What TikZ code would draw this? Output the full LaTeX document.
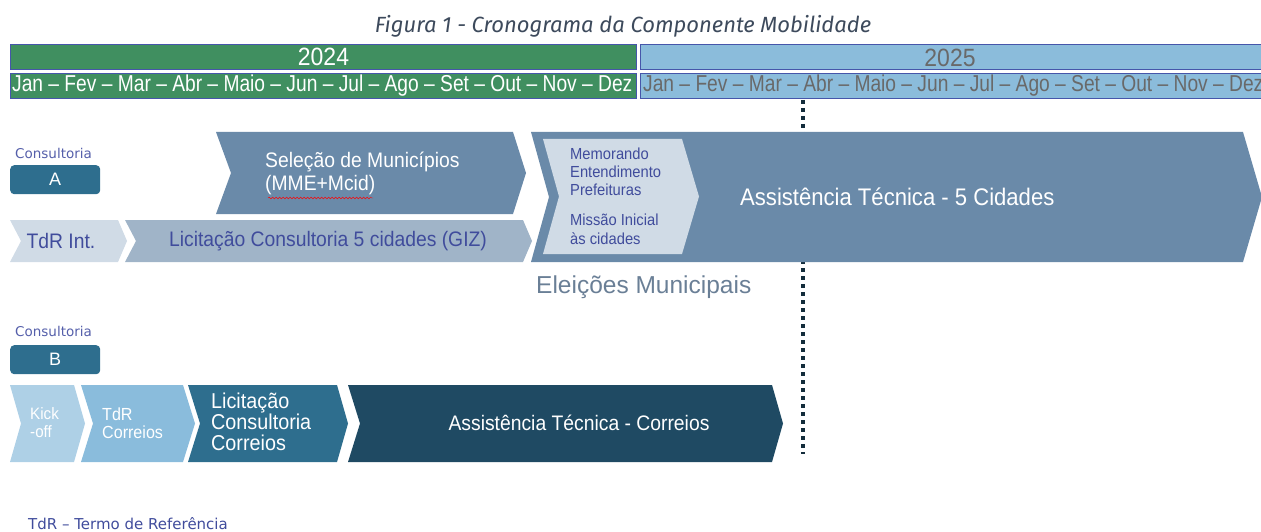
\documentclass[tikz,border=0pt]{standalone}
\usepackage{fontspec}
\setmainfont{Liberation Sans}
\newfontfamily\narrowfont[FakeStretch=0.835]{Liberation Sans}
\newfontfamily\semifont[FakeStretch=0.92]{Liberation Sans}
\newfontfamily\widefont{DejaVu Sans}
\newfontfamily\captionfont{Fira Sans}
\usetikzlibrary{decorations.pathmorphing}
\definecolor{yeargreen}{RGB}{64,143,96}
\definecolor{yearborder}{RGB}{70,86,170}
\definecolor{yearblue}{RGB}{139,188,219}
\definecolor{greytext}{RGB}{105,105,105}
\definecolor{chevmid}{RGB}{106,138,169}
\definecolor{chevlight}{RGB}{208,219,230}
\definecolor{chevgiz}{RGB}{160,180,200}
\definecolor{navytext}{RGB}{64,76,156}
\definecolor{tealbox}{RGB}{46,110,142}
\definecolor{kickblue}{RGB}{174,208,230}
\definecolor{tdrblue}{RGB}{138,188,220}
\definecolor{darknavy}{RGB}{31,74,99}
\definecolor{captioncol}{RGB}{61,74,92}
\definecolor{eleicol}{RGB}{106,127,150}
\definecolor{consultcol}{RGB}{85,95,170}

% chevron: fill, x left, x right, y top, y bottom, notch depth, tip depth
\newcommand{\chevron}[7]{%
  \fill[#1] (#2,#4) -- ({#3-#7},#4) -- (#3,{(#4+#5)/2}) -- ({#3-#7},#5)
    -- (#2,#5) -- ({#2+#6},{(#4+#5)/2}) -- cycle;}

\begin{document}
\begin{tikzpicture}[x=1pt, y=-1pt,
    every node/.style={inner sep=0pt},
    yearbar/.style={draw=yearborder, line width=1pt, anchor=north west, minimum height=25pt},
    yeartext/.style={font=\semifont\fontsize{25}{26}\selectfont},
    monthtext/.style={font=\narrowfont\fontsize{23}{24}\selectfont, anchor=west},
    consult/.style={font=\widefont\fontsize{13.5}{14}\selectfont, text=consultcol, anchor=west},
    letterbox/.style={fill=tealbox, rounded corners=4pt, minimum width=90pt, minimum height=29pt,
      text=white, font=\fontsize{18}{19}\selectfont, anchor=north west},
    chevtext/.style={font=\semifont\fontsize{21}{23}\selectfont, align=left, anchor=west},
    smalltext/.style={font=\semifont\fontsize{16}{18}\selectfont, align=left, anchor=west},
    dotline/.style={line width=4pt, dash pattern=on 4pt off 4pt}
  ]
  \useasboundingbox (0,0) rectangle (1261,532);

  % caption
  \node[font=\captionfont\itshape\fontsize{22}{23}\selectfont, text=captioncol] (caption) at (623,26)
    {Figura 1 - Cronograma da Componente Mobilidade};

  % years
  \node[yearbar, fill=yeargreen, minimum width=626pt] (y2024) at (10,44) {};
  \node[yeartext, text=white] at (y2024) {2024};
  \node[yearbar, fill=yeargreen, minimum width=626pt] (m2024) at (10,73) {};
  \node[monthtext, text=white] (m2024t) at (12,86)
    {Jan – Fev – Mar – Abr – Maio – Jun – Jul – Ago – Set – Out – Nov – Dez};
  \node[yearbar, fill=yearblue, minimum width=630pt] (y2025) at (640,44) {};
  \node[yeartext, text=greytext] at (950,58) {2025};
  \node[yearbar, fill=yearblue, minimum width=630pt] (m2025) at (640,73) {};
  \node[monthtext, text=greytext] (m2025t) at (643,86)
    {Jan – Fev – Mar – Abr – Maio – Jun – Jul – Ago – Set – Out – Nov – Dez};

  % elections marker
  \coordinate (dtop) at (803,100);
  \coordinate (dbot) at (803,454);
  \draw[dotline, darknavy!60!black] (dtop) -- (dbot);

  % Consultoria A
  \node[consult] (consA) at (15,153) {Consultoria};
  \node[letterbox] (boxA) at (10,165) {A};

  \chevron{chevmid}{216}{526}{132}{214}{15}{13}
  \node[chevtext, text=white] (selecao) at (265,173) {Seleção de Municípios\\(MME+Mcid)};
  \draw[red, decorate, decoration={snake, amplitude=0.9pt, segment length=3.5pt}] (268,198) -- (373,198);

  \chevron{chevlight}{10}{127}{220}{262}{11}{9}
  \node[font=\semifont\fontsize{21}{22}\selectfont, text=navytext] (tdrint) at (61,241) {TdR Int.};
  \chevron{chevgiz}{125}{532}{220}{262}{11}{9}
  \node[font=\semifont\fontsize{21}{22}\selectfont, text=navytext] (giz) at (328,241)
    {Licitação Consultoria 5 cidades (GIZ)};

  \chevron{chevmid}{531}{1262}{132}{262}{18}{19}
  \chevron{chevlight}{543}{699}{139}{254}{16}{17}
  \node[smalltext, text=navytext] (memo) at (570,172) {Memorando\\Entendimento\\Prefeituras};
  \node[smalltext, text=navytext, font=\semifont\fontsize{16}{19}\selectfont] (missao) at (570,229)
    {Missão Inicial\\às cidades};
  \node[chevtext, font=\semifont\fontsize{24}{26}\selectfont, text=white] (at5) at (740,197)
    {Assistência Técnica - 5 Cidades};

  \node[font=\fontsize{24.5}{26}\selectfont, text=eleicol, anchor=west] (eleicoes) at (536,287)
    {Eleições Municipais};

  % Consultoria B
  \node[consult] (consB) at (15,331) {Consultoria};
  \node[letterbox] (boxB) at (10,345) {B};

  \chevron{kickblue}{10}{85}{385}{462}{11}{11}
  \node[smalltext, text=white, font=\semifont\fontsize{16.5}{18}\selectfont] (kick) at (30,423) {Kick\\-off};
  \chevron{tdrblue}{81}{195}{385}{462}{12}{12}
  \node[smalltext, text=white, font=\semifont\fontsize{17.5}{18}\selectfont] (tdrc) at (102,423) {TdR\\Correios};
  \chevron{tealbox}{188}{348}{385}{462}{12}{11}
  \node[chevtext, text=white, font=\semifont\fontsize{21.5}{21}\selectfont] (licc) at (211,422)
    {Licitação\\Consultoria\\Correios};
  \chevron{darknavy}{348}{783}{385}{462}{12}{11}
  \node[font=\semifont\fontsize{21}{22}\selectfont, text=white] (atc) at (579,423)
    {Assistência Técnica - Correios};

  % footer
  \node[font=\widefont\fontsize{15}{16}\selectfont, text=navytext, anchor=base west] (nota) at (28,529)
    {TdR – Termo de Referência};
\end{tikzpicture}
\end{document}
